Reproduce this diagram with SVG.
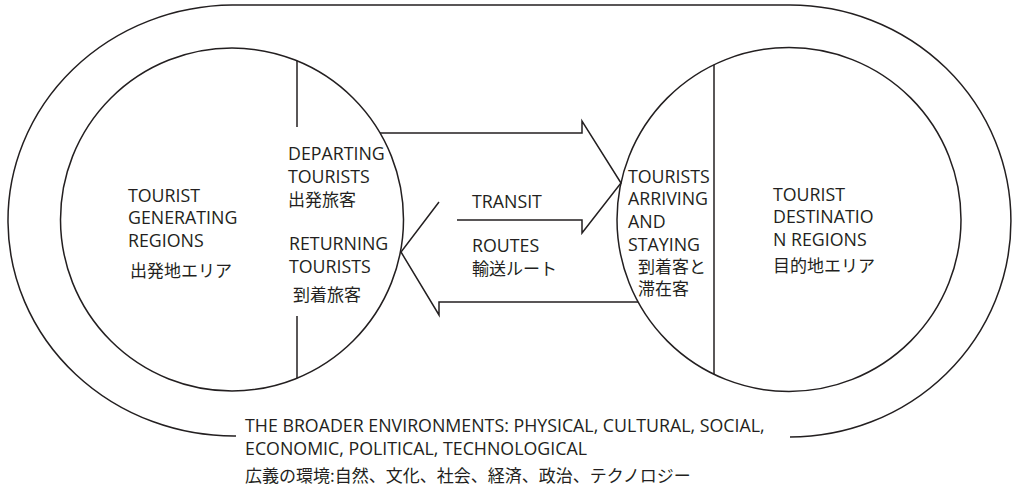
<svg xmlns="http://www.w3.org/2000/svg" width="1013" height="494" viewBox="0 0 1013 494">
<style>
  .ln{fill:none;stroke:#231f20;stroke-width:1.5;stroke-linejoin:miter}
  .t{font-family:"Open Sans","Noto Sans CJK JP",sans-serif;font-size:17.8px;fill:#231f20}
  .j{font-family:"Noto Sans CJK JP",sans-serif;font-size:17px;fill:#231f20}
</style>
<rect width="1013" height="494" fill="#ffffff"/>
<g id="environment">
  <path class="ln" d="M236,436 A226,215.5 0 0 1 232,5 L790,5 A221,216 0 0 1 790,437"/>
  <text class="t" x="245" y="432">THE BROADER ENVIRONMENTS: PHYSICAL, CULTURAL, SOCIAL,</text>
  <text class="t" x="245" y="455">ECONOMIC, POLITICAL, TECHNOLOGICAL</text>
  <text class="j" x="245" y="482" font-size="17.4">広義の環境:自然、文化、社会、経済、政治、テクノロジー</text>
</g>
<g id="generating-region">
  <circle class="ln" cx="232" cy="219.5" r="171.5"/>
  <line class="ln" x1="297" y1="60.8" x2="297" y2="127"/>
  <line class="ln" x1="297" y1="316" x2="297" y2="378.2"/>
  <text class="t" x="128" y="202">TOURIST</text>
  <text class="t" x="128" y="224">GENERATING</text>
  <text class="t" x="128" y="247">REGIONS</text>
  <text class="j" x="130" y="277">出発地エリア</text>
</g>
<g id="departing">
  <text class="t" x="288" y="160">DEPARTING</text>
  <text class="t" x="288" y="183">TOURISTS</text>
  <text class="j" x="288" y="206">出発旅客</text>
</g>
<g id="returning">
  <text class="t" x="289" y="250">RETURNING</text>
  <text class="t" x="289" y="273">TOURISTS</text>
  <text class="j" x="293" y="301">到着旅客</text>
</g>
<g id="transit">
  <text class="t" x="472" y="208">TRANSIT</text>
  <text class="t" x="472" y="252">ROUTES</text>
  <text class="j" x="472" y="275">輸送ルート</text>
</g>
<g id="destination-region">
  <circle class="ln" cx="789" cy="219.5" r="172"/>
  <line class="ln" x1="714" y1="64.7" x2="714" y2="374.3"/>
  <text class="t" x="773" y="201">TOURIST</text>
  <text class="t" x="773" y="223">DESTINATIO</text>
  <text class="t" x="773" y="246">N REGIONS</text>
  <text class="j" x="773" y="272">目的地エリア</text>
</g>
<g id="arriving">
  <text class="t" x="628" y="183">TOURISTS</text>
  <text class="t" x="628" y="205">ARRIVING</text>
  <text class="t" x="628" y="228">AND</text>
  <text class="t" x="628" y="251">STAYING</text>
  <text class="j" x="638" y="273">到着客と</text>
  <text class="j" x="638" y="295">滞在客</text>
</g>
<g id="connectors">
  <polyline class="ln" points="380,133 582,133 582,121 621,183 582,233 582,220 457,220"/>
  <polyline class="ln" points="439,202 401,252 439,315 439,302 638,302"/>
</g>
</svg>
